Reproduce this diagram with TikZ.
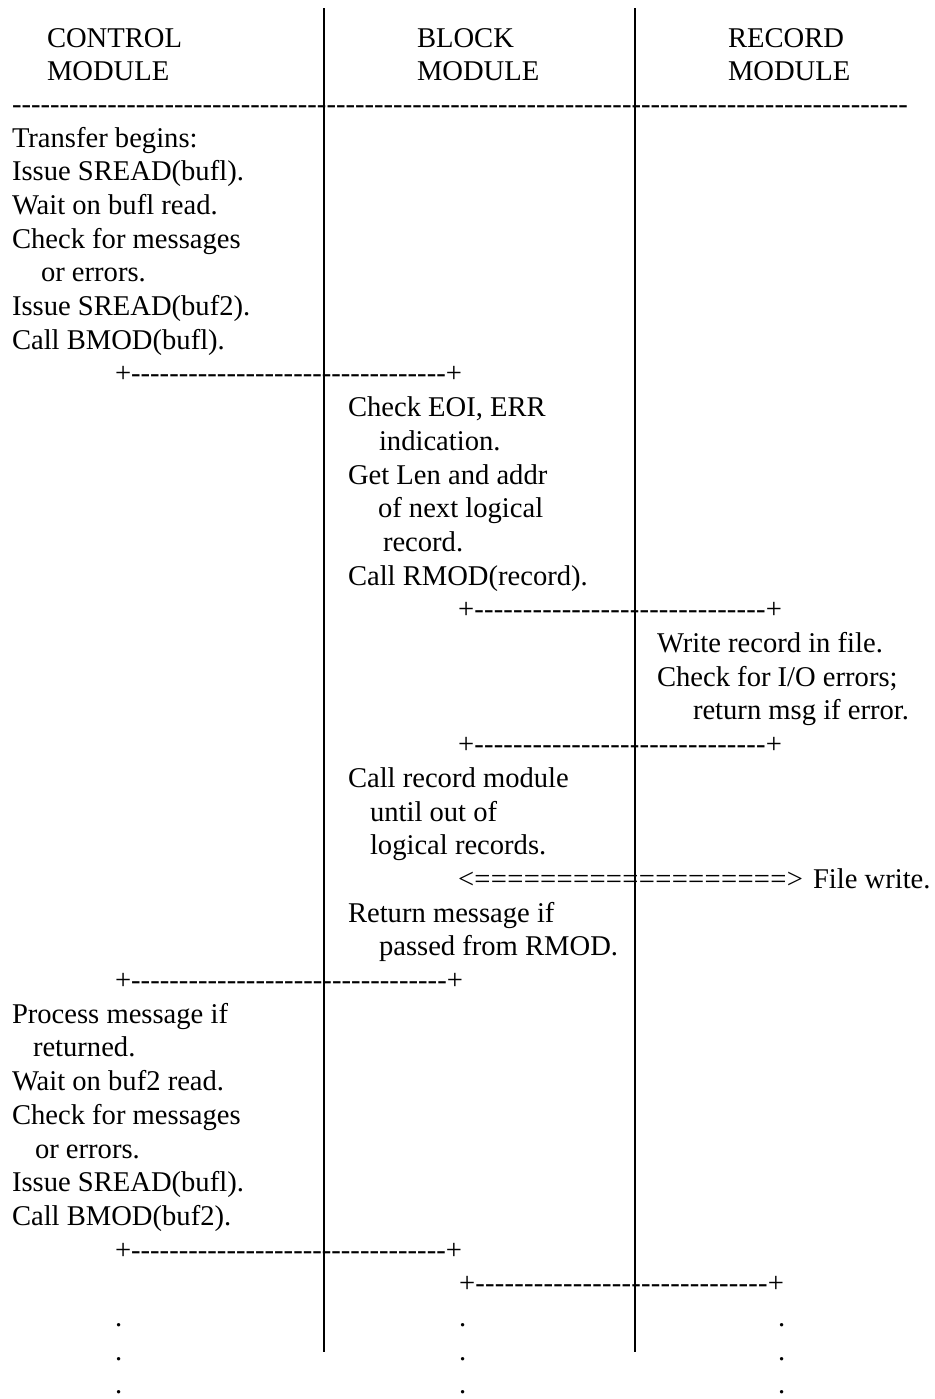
\documentclass[tikz,border=0pt]{standalone}
\usepackage{fontspec}
\setmainfont{Liberation Serif}
\begin{document}
\begin{tikzpicture}[x=0.5pt,y=-0.5pt,
  every node/.style={font=\fontsize{14.3pt}{17pt}\selectfont},
  txt/.style={anchor=base west,inner sep=0pt,outer sep=0pt},
  colline/.style={line width=1pt,black}]
\useasboundingbox (0,0) rectangle (934,1399);
% header
\node[txt] (hc1) at (47,47) {CONTROL};
\node[txt] (hc2) at (47,80) {MODULE};
\node[txt] (hb1) at (417,47) {BLOCK};
\node[txt] (hb2) at (417,80) {MODULE};
\node[txt] (hr1) at (728,47) {RECORD};
\node[txt] (hr2) at (728,80) {MODULE};
\node[txt] (rule) at (12,{147-33.7}) {\makebox[448pt][l]{\xleaders\hbox{-}\hfill}};
% control module, first part
\node[txt] (c0) at (12,{147+33.7*0}) {Transfer begins:};
\node[txt] (c1) at (12,{147+33.7*1}) {Issue SREAD(bufl).};
\node[txt] (c2) at (12,{147+33.7*2}) {Wait on bufl read.};
\node[txt] (c3) at (12,{147+33.7*3}) {Check for messages};
\node[txt] (c4) at (41,{147+33.7*4}) {or errors.};
\node[txt] (c5) at (12,{147+33.7*5}) {Issue SREAD(buf2).};
\node[txt] (c6) at (12,{147+33.7*6}) {Call BMOD(bufl).};
\node[txt] (p7) at (115,{147+33.7*7}) {\makebox[173.5pt][l]{+\xleaders\hbox{-}\hfill+}};
% block module
\node[txt] (b8) at (348,{147+33.7*8}) {Check EOI, ERR};
\node[txt] (b9) at (379,{147+33.7*9}) {indication.};
\node[txt] (b10) at (348,{147+33.7*10}) {Get Len and addr};
\node[txt] (b11) at (378,{147+33.7*11}) {of next logical};
\node[txt] (b12) at (383,{147+33.7*12}) {record.};
\node[txt] (b13) at (348,{147+33.7*13}) {Call RMOD(record).};
\node[txt] (p14) at (458,{147+33.7*14}) {\makebox[162pt][l]{+\xleaders\hbox{-}\hfill+}};
% record module
\node[txt] (r15) at (657,{147+33.7*15}) {Write record in file.};
\node[txt] (r16) at (657,{147+33.7*16}) {Check for I/O errors;};
\node[txt] (r17) at (693,{147+33.7*17}) {return msg if error.};
\node[txt] (p18) at (458,{147+33.7*18}) {\makebox[162pt][l]{+\xleaders\hbox{-}\hfill+}};
% block module again
\node[txt] (b19) at (348,{147+33.7*19}) {Call record module};
\node[txt] (b20) at (370,{147+33.7*20}) {until out of};
\node[txt] (b21) at (370,{147+33.7*21}) {logical records.};
\node[txt] (a22) at (458,{147+33.7*22}) {\makebox[172.5pt][l]{<\xleaders\hbox{=}\hfill>}};
\node[txt] (fw) at (813,{147+33.7*22}) {File write.};
\node[txt] (b23) at (348,{147+33.7*23}) {Return message if};
\node[txt] (b24) at (379,{147+33.7*24}) {passed from RMOD.};
\node[txt] (p25) at (115,{147+33.7*25}) {\makebox[174pt][l]{+\xleaders\hbox{-}\hfill+}};
% control module again
\node[txt] (c26) at (12,{147+33.7*26}) {Process message if};
\node[txt] (c27) at (33,{147+33.7*27}) {returned.};
\node[txt] (c28) at (12,{147+33.7*28}) {Wait on buf2 read.};
\node[txt] (c29) at (12,{147+33.7*29}) {Check for messages};
\node[txt] (c30) at (35,{147+33.7*30}) {or errors.};
\node[txt] (c31) at (12,{147+33.7*31}) {Issue SREAD(bufl).};
\node[txt] (c32) at (12,{147+33.7*32}) {Call BMOD(buf2).};
\node[txt] (p33) at (115,{147+33.7*33}) {\makebox[173.5pt][l]{+\xleaders\hbox{-}\hfill+}};
\node[txt] (p34) at (459,{147+33.7*34}) {\makebox[162.5pt][l]{+\xleaders\hbox{-}\hfill+}};
% dots
\foreach \k in {35,36,37}{
  \node[txt] (dl\k) at (115,{147+33.7*\k}) {.};
  \node[txt] (dm\k) at (459,{147+33.7*\k}) {.};
  \node[txt] (dr\k) at (778,{147+33.7*\k}) {.};
}
% column separators
\coordinate (v1t) at (324,8);
\coordinate (v1b) at (324,1352);
\coordinate (v2t) at (635,8);
\coordinate (v2b) at (635,1352);
\draw[colline] (v1t) -- (v1b);
\draw[colline] (v2t) -- (v2b);
\end{tikzpicture}
\end{document}
